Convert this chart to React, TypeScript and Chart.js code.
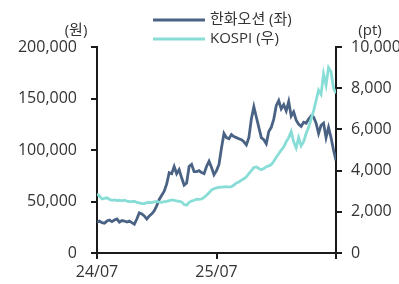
import { useEffect, useRef } from "react";
import { Chart, registerables } from "chart.js";

Chart.register(...registerables);

// Weekly samples, 24/07 .. 26/07 (index 0..96)
const hanwha: number[] = [
  30000, 31000, 29500, 29000, 31000, 32000, 30500, 32000, 33000, 30000,
  31500, 31000, 30000, 31000, 29500, 28000, 33000, 39000, 38000, 36000,
  33000, 36000, 38000, 41000, 46000, 52000, 56000, 60000, 67000, 78000,
  77000, 84000, 77000, 81000, 73000, 66000, 68000, 84000, 86000, 79000,
  79000, 80000, 78000, 77000, 84000, 89000, 83000, 76000, 80000, 86000,
  102000, 116000, 112000, 111000, 115000, 113000, 112000, 111000, 110000, 108000,
  105000, 112000, 130000, 142000, 132000, 122000, 112000, 110000, 106000, 118000,
  122000, 130000, 143000, 148000, 140000, 144000, 138000, 147000, 133000, 137000,
  129000, 125000, 123000, 127000, 126000, 130000, 133000, 132000, 126000, 116000,
  124000, 126000, 112000, 122000, 112000, 100000, 90000,
];

const kospi: number[] = [
  2880, 2760, 2620, 2650, 2680, 2600, 2560, 2580, 2540, 2560,
  2530, 2560, 2520, 2500, 2490, 2510, 2460, 2430, 2400, 2400,
  2440, 2460, 2450, 2480, 2500, 2470, 2460, 2490, 2510, 2540,
  2580, 2560, 2530, 2510, 2480, 2350, 2320, 2460, 2520, 2560,
  2610, 2600, 2620, 2700, 2800, 2920, 3060, 3120, 3160, 3180,
  3200, 3210, 3220, 3200, 3220, 3300, 3400, 3450, 3540, 3600,
  3700, 3850, 4000, 4150, 4180, 4100, 4040, 4100, 4190, 4230,
  4290, 4450, 4650, 4820, 5000, 5150, 5400, 5600, 5900, 5400,
  5100, 5600, 5200, 5400, 5800, 6100, 6500, 6900, 7400, 7900,
  7700, 8700, 8150, 9000, 8800, 8000, 7750,
];

const xTickLabels = ["24/07", "25/07", ""];
const pointsPerYear = 48;
const seriesNames = ["한화오션 (좌)", "KOSPI (우)"];
const unitLeft = "(원)";
const unitRight = "(pt)";

const DARK = "#4a6384";
const TEAL = "#88ddd6";
const AXIS = "#1a1a1a";
const TEXT = "#333333";
const FONT_FAMILY = '"Open Sans", "Noto Sans CJK KR", sans-serif';

const overlay = {
  id: "overlay",
  afterDraw(chart: any) {
    const ctx = chart.ctx as CanvasRenderingContext2D;
    ctx.save();
    ctx.font = `15px ${FONT_FAMILY}`;
    ctx.textBaseline = "middle";
    ctx.fillStyle = TEXT;
    const items = [
      { label: seriesNames[0], color: DARK, y: 20 },
      { label: seriesNames[1], color: TEAL, y: 39 },
    ];
    items.forEach((it) => {
      ctx.strokeStyle = it.color;
      ctx.lineWidth = 3;
      ctx.beginPath();
      ctx.moveTo(153, it.y);
      ctx.lineTo(205, it.y);
      ctx.stroke();
      ctx.textAlign = "left";
      ctx.fillText(it.label, 210, it.y);
    });
    ctx.textAlign = "center";
    ctx.fillText(unitLeft, 76, 31);
    ctx.fillText(unitRight, 370, 31);
    ctx.restore();
  },
};

export default function App() {
  const ref = useRef<HTMLCanvasElement | null>(null);

  useEffect(() => {
    if (!ref.current) return;
    const fmt = (v: number) => Number(v).toLocaleString("en-US");
    const chart = new Chart(ref.current, {
      type: "line",
      data: {
        datasets: [
          {
            label: seriesNames[0],
            data: hanwha.map((v, i) => ({ x: i, y: v })),
            borderColor: DARK,
            backgroundColor: DARK,
            borderWidth: 2.8,
            pointRadius: 0,
            tension: 0,
            yAxisID: "y",
            order: 1,
          },
          {
            label: seriesNames[1],
            data: kospi.map((v, i) => ({ x: i, y: v })),
            borderColor: TEAL,
            backgroundColor: TEAL,
            borderWidth: 2.8,
            pointRadius: 0,
            tension: 0,
            yAxisID: "y1",
            order: 0,
          },
        ],
      },
      options: {
        animation: false,
        responsive: false,
        maintainAspectRatio: false,
        layout: { padding: { top: 47, left: 0, right: 0, bottom: 0 } },
        plugins: {
          legend: { display: false },
          tooltip: { enabled: false },
        },
        scales: {
          x: {
            type: "linear",
            min: 0,
            max: hanwha.length - 1,
            afterFit: (s: any) => {
              s.height = 31;
            },
            afterBuildTicks: (s: any) => {
              s.ticks = xTickLabels.map((_, i) => ({ value: i * pointsPerYear }));
            },
            ticks: {
              autoSkip: false,
              maxRotation: 0,
              padding: 4,
              color: TEXT,
              font: { size: 16, family: FONT_FAMILY },
              callback: (v: any) => xTickLabels[Math.round(Number(v) / pointsPerYear)] ?? "",
            },
            grid: {
              drawOnChartArea: false,
              drawTicks: true,
              tickLength: 6,
              color: AXIS,
              lineWidth: 2,
            },
            border: { display: true, color: AXIS, width: 2 },
          },
          y: {
            position: "left",
            min: 0,
            max: 200000,
            afterFit: (s: any) => {
              s.width = 97;
            },
            ticks: {
              stepSize: 50000,
              padding: 14,
              color: TEXT,
              font: { size: 16, family: FONT_FAMILY },
              callback: (v: any) => fmt(v),
            },
            grid: {
              drawOnChartArea: false,
              drawTicks: true,
              tickLength: 6,
              color: AXIS,
              lineWidth: 2,
            },
            border: { display: true, color: AXIS, width: 2 },
          },
          y1: {
            position: "right",
            min: 0,
            max: 10000,
            afterFit: (s: any) => {
              s.width = 63;
            },
            ticks: {
              stepSize: 2000,
              padding: 9,
              color: TEXT,
              font: { size: 16, family: FONT_FAMILY },
              callback: (v: any) => fmt(v),
            },
            grid: {
              drawOnChartArea: false,
              drawTicks: true,
              tickLength: 6,
              color: AXIS,
              lineWidth: 2,
            },
            border: { display: true, color: AXIS, width: 2 },
          },
        },
      },
      plugins: [overlay],
    });
    return () => chart.destroy();
  }, []);

  return (
    <div style={{ position: "fixed", left: 0, top: 0, width: 399, height: 284, background: "#fff" }}>
      <canvas ref={ref} width={399} height={284} style={{ width: 399, height: 284 }} />
    </div>
  );
}
